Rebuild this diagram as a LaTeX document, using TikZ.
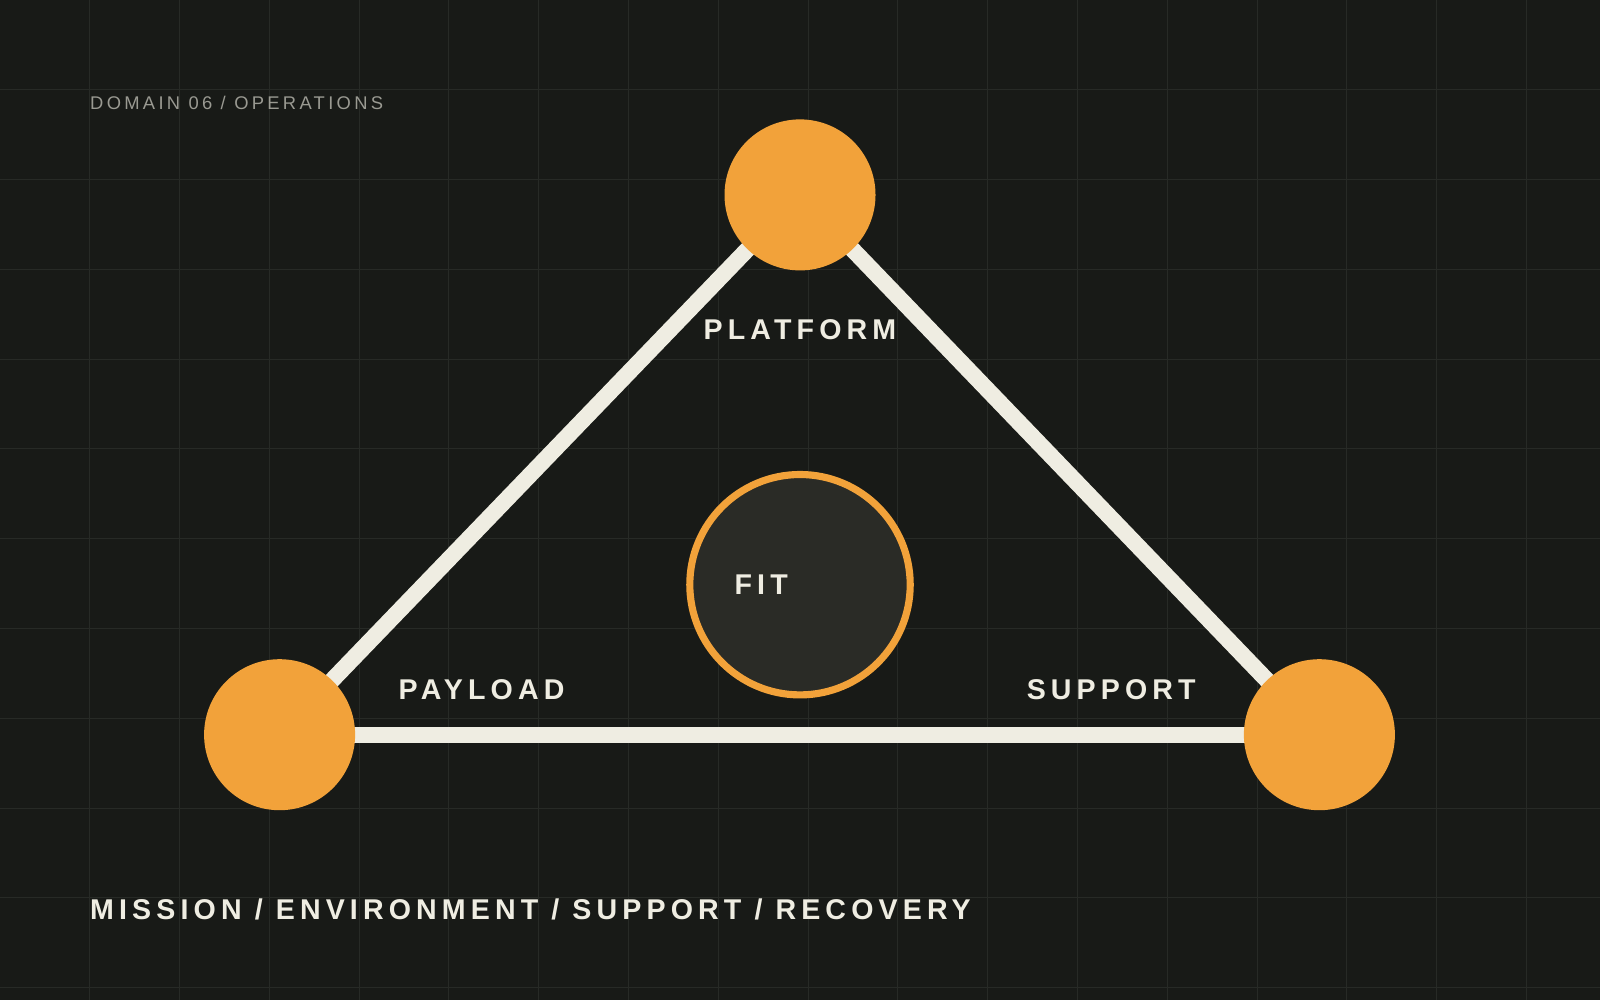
\documentclass[tikz,border=0pt]{standalone}
\usepackage{fontspec}
\setmainfont{Liberation Sans}
\definecolor{bg}{HTML}{181A17}
\definecolor{gridc}{HTML}{272A26}
\definecolor{org}{HTML}{F2A23A}
\definecolor{cream}{HTML}{EFEDE2}
\definecolor{inner}{HTML}{2A2B26}
\definecolor{muted}{HTML}{9A9A92}
\begin{document}
\begin{tikzpicture}[x=0.5pt,y=-0.5pt,
  hub/.style={circle,fill=org,minimum size=74pt,inner sep=0pt},
  edge/.style={cream,line width=8pt},
  lab/.style={text=cream,font=\fontsize{14}{16}\bfseries\addfontfeature{LetterSpace=18}\selectfont,inner sep=0pt}]
\fill[bg] (0,0) rectangle (1568,980);
\useasboundingbox (0,0) rectangle (1568,980);
\foreach \i in {1,...,17} \draw[gridc,line width=0.5pt] (\i*88,0) -- (\i*88,980);
\foreach \j in {1,...,11} \draw[gridc,line width=0.5pt] (0,\j*88) -- (1568,\j*88);
\coordinate (ct) at (784,191);
\coordinate (cl) at (274,720);
\coordinate (cr) at (1293,720);
\draw[edge] (ct) -- (cl);
\draw[edge] (ct) -- (cr);
\draw[edge] (cl) -- (cr);
\node[hub] (top) at (ct) {};
\node[hub] (left) at (cl) {};
\node[hub] (right) at (cr) {};
\node[circle,fill=inner,draw=org,line width=3.5pt,minimum size=108pt,inner sep=0pt] (fitc) at (784,573) {};
\node[lab] (fit) at (746,573) {FIT};
\node[lab] (plat) at (784,323) {PLATFORM};
\node[lab] (pay) at (472,676) {PAYLOAD};
\node[lab] (sup) at (1089,676) {SUPPORT};
\node[anchor=west,text=muted,inner sep=0pt,font=\fontsize{9}{11}\selectfont\addfontfeature{LetterSpace=18}] (dom) at (88,101) {DOMAIN 06 / OPERATIONS};
\node[anchor=west,lab] (bot) at (88,891) {MISSION / ENVIRONMENT / SUPPORT / RECOVERY};
\end{tikzpicture}
\end{document}
